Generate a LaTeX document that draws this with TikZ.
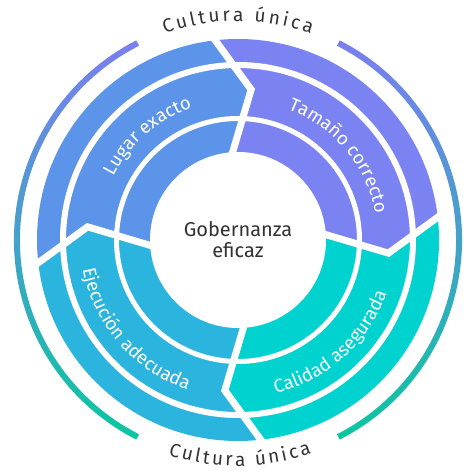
\documentclass[tikz,border=0pt]{standalone}
\usepackage{fontspec}
\setmainfont{Fira Sans}
\usetikzlibrary{calc,decorations.text}
\definecolor{lugar}{HTML}{5B94E8}
\definecolor{tamano}{HTML}{7B83F2}
\definecolor{calidad}{HTML}{00D2D0}
\definecolor{ejecucion}{HTML}{2BB4DE}
\definecolor{ringtop}{HTML}{7B7EF0}
\definecolor{ringmid}{HTML}{3B9BDB}
\definecolor{ringbot}{HTML}{0BC6A0}
\definecolor{inkgray}{HTML}{333333}
\newcommand\bandfont{\fontsize{18.5}{18.5}\selectfont}
\newcommand\ringfont{\fontsize{19}{19}\selectfont}
\tikzset{
  whitegap/.style={white,line width=7pt,line join=miter},
  bandtext/.style={decorate,decoration={text along path,text align=center,
    text color=white,text={|\bandfont|#1}}},
  ringtext/.style={decorate,decoration={text along path,text align={fit to path},
    text color=inkgray,text={|\ringfont|#1}}}
}

\begin{document}
\begin{tikzpicture}[x=1pt,y=1pt]
  \useasboundingbox (-238,-231) rectangle (226,240);
  \foreach \i/\a in {0/95,1/5,2/-85,3/-175}{
    \coordinate (in\i) at (\a-0.5:84);
    \coordinate (tip\i) at (\a-10:151);
    \coordinate (out\i) at (\a+1.5:201);
    \coordinate (far\i) at ($(tip\i)!2.5!(out\i)$);
  }
  \begin{scope}
    \clip (0,0) circle (201);
    \fill[tamano] (0,0) -- (in0) -- (tip0) -- (far0) -- (50:400) -- (far1) -- (tip1) -- (in1) -- cycle;
    \fill[calidad] (0,0) -- (in1) -- (tip1) -- (far1) -- (-40:400) -- (far2) -- (tip2) -- (in2) -- cycle;
    \fill[ejecucion] (0,0) -- (in2) -- (tip2) -- (far2) -- (-130:400) -- (far3) -- (tip3) -- (in3) -- cycle;
    \fill[lugar] (0,0) -- (in3) -- (tip3) -- (far3) -- (140:400) -- (far0) -- (tip0) -- (in0) -- cycle;
  \end{scope}
  \fill[white] (0,0) circle (88);
  \draw[white,line width=5pt] (0,0) circle (121.5);
  \draw[white,line width=6pt] (0,0) circle (175);
  \foreach \i in {0,...,3}
    \draw[whitegap] (in\i) -- (tip\i) -- (far\i);

  \shade[top color=ringtop,middle color=ringmid,bottom color=ringbot]
    (117:218) arc[start angle=117,end angle=243,radius=218]
    -- (243:224) arc[start angle=243,end angle=117,radius=224] -- cycle;
  \shade[top color=ringtop,middle color=ringmid,bottom color=ringbot]
    (63:218) arc[start angle=63,end angle=-63,radius=218]
    -- (-63:224) arc[start angle=-63,end angle=63,radius=224] -- cycle;

  \node[text=inkgray,align=center,font=\fontsize{20}{21}\selectfont] (gob) at (0,0) {Gobernanza\\eficaz};
  \path[bandtext=Lugar exacto] (176:140) arc[start angle=176,end angle=86,radius=140];
  \path[bandtext=Tamaño correcto] (85:140) arc[start angle=85,end angle=-5,radius=140];
  \path[bandtext=Ejecución adecuada] (176:158) arc[start angle=176,end angle=266,radius=158];
  \path[bandtext=Calidad asegurada] (267:158) arc[start angle=267,end angle=357,radius=158];
  \path[ringtext=Cultura única] (109.5:219) arc[start angle=109.5,end angle=70.5,radius=219];
  \path[ringtext=Cultura única] (252:226) arc[start angle=252,end angle=289,radius=226];
\end{tikzpicture}
\end{document}
